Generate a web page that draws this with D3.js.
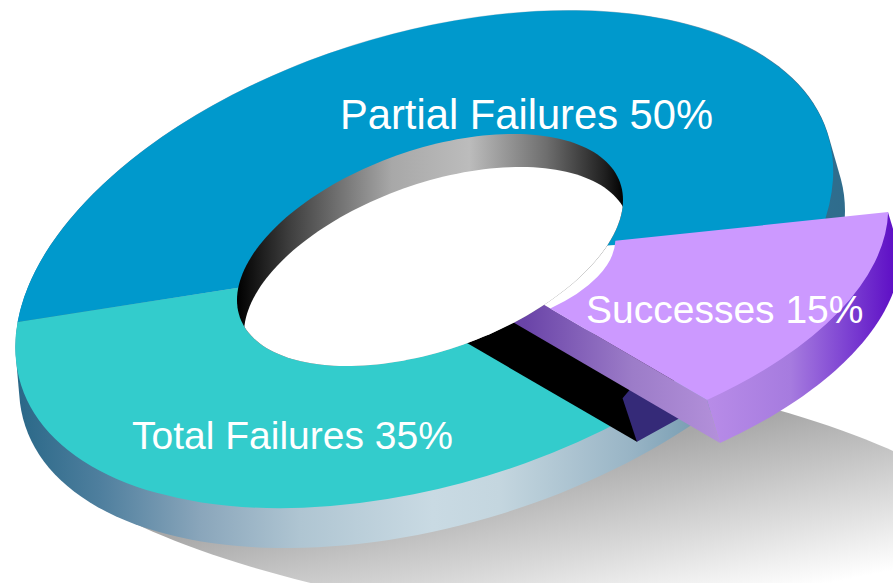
<!DOCTYPE html>
<html>
<head>
<meta charset="utf-8">
<style>
html, body { margin: 0; padding: 0; background: #fff; }
svg { display: block; }
text { font-family: "Liberation Sans", Arial, sans-serif; fill: #fff; }
</style>
<script src="https://cdn.jsdelivr.net/npm/d3@7"></script>
</head>
<body>
<svg id="chart" width="893" height="583"></svg>
<script>
// slices run clockwise from the blue one
const labels = ["Partial Failures", "Successes", "Total Failures"];
const values = [50, 15, 35];
const colors = ["#0099cc", "#cc99ff", "#33cccc"];

const svg = d3.select("#chart");
const defs = svg.append("defs");
const rad = d => d * Math.PI / 180;

// tilted disc: unit circle -> screen
const disc = {a: 409, b: 0, c: -88, d: 233, e: 424.5, f: 259};
const under = {a: 413, b: 0, c: -88, d: 233, e: 432, f: 299};
const hole = {a: 193, b: 0, c: -50, d: 104.7, e: 430, f: 250};
const slice = {a: 424.3, b: 37.9, c: -66.7, d: 203.6, e: 462, f: 257};
const floor = {a: 480, b: 0, c: 55, d: 130, e: 520, f: 490};

const matrix = m => `matrix(${m.a},${m.c},${m.b},${m.d},${m.e},${m.f})`;
const project = (m, r, ang, dx = 0, dy = 0) => [
    m.e + dx + r * (m.a * Math.sin(ang) - m.b * Math.cos(ang)),
    m.f + dy + r * (m.c * Math.sin(ang) - m.d * Math.cos(ang))
];
const closed = d3.line().curve(d3.curveLinearClosed);
const circlePts = (m, dx = 0, dy = 0) => d3.range(0, 360, 2).map(t => project(m, 1, rad(t), dx, dy));

const pie = d3.pie().sort(null).startAngle(rad(-84)).endAngle(rad(276));
const arcs = pie(values);

function gradient(id, x1, y1, x2, y2, stops) {
    const g = defs.append("linearGradient").attr("id", id)
        .attr("gradientUnits", "userSpaceOnUse")
        .attr("x1", x1).attr("y1", y1).attr("x2", x2).attr("y2", y2);
    stops.forEach(s => g.append("stop").attr("offset", s[0]).attr("stop-color", s[1]));
}

gradient("floorFill", 400, 490, 435, 663, [[0, "#a8a8a8"], [1, "#ffffff"]]);
gradient("sideFill", 18, 0, 848, 0, [
    [0, "#2a6888"], [0.1, "#4f7f9e"], [0.22, "#8aa6bb"], [0.34, "#afc5d2"], [0.5, "#c9dae3"],
    [0.58, "#c4d6df"], [0.74, "#98b4c5"], [0.84, "#6f97ad"], [0.95, "#2f6f90"], [1, "#2f6c8c"]
]);
gradient("wellFill", 237, 0, 624, 0, [
    [0, "#000000"], [0.14, "#404040"], [0.4, "#a8a8a8"], [0.6, "#bcbcbc"], [0.8, "#6e6e6e"], [0.95, "#202020"], [1, "#000000"]
]);
gradient("rimFill", 707, 0, 893, 0, [
    [0, "#b88ce8"], [0.45, "#a67bdf"], [0.75, "#7d42d2"], [1, "#5f10c6"]
]);
gradient("cutFill", 525, 0, 720, 0, [
    [0, "#6a44a8"], [0.55, "#9c7cc8"], [1, "#b390da"]
]);

// ground shadow
svg.append("path").attr("d", closed(circlePts(floor))).attr("fill", "url(#floorFill)");

// outer side of the disc
svg.append("path")
    .attr("d", closed(d3.polygonHull(circlePts(disc).concat(circlePts(under)))))
    .attr("fill", "url(#sideFill)");

// top faces of the two slices that stay in place; blue runs on a little under the purple
const face = d3.arc().innerRadius(0).outerRadius(1);
svg.append("path")
    .attr("d", face({startAngle: arcs[0].startAngle, endAngle: arcs[0].endAngle + rad(8)}))
    .attr("transform", matrix(disc)).attr("fill", colors[0]);
svg.append("path").attr("d", face(arcs[2])).attr("transform", matrix(disc)).attr("fill", colors[2]);

// see-through gap where the slice was pulled out
svg.append("path")
    .attr("d", d3.arc().innerRadius(0).outerRadius(0.6)({startAngle: arcs[1].startAngle + rad(8), endAngle: arcs[1].endAngle}))
    .attr("transform", matrix(disc)).attr("fill", "#fff");

// the cut left behind by the pulled-out slice, measured from its closing angle
const cutAngle = arcs[1].endAngle;
const cutBlack = [[1.11, 2.1], [0.365, 18.4], [0.38, -11], [0.95, -11]];
const cutNavy = [[1.11, 2.1], [0.919, -1.8], [0.88, -7], [1.115, -7]];
const cutPts = list => list.map(p => project(disc, p[0], cutAngle + rad(p[1])));
svg.append("path").attr("d", closed(cutPts(cutBlack))).attr("fill", "#000");
svg.append("path").attr("d", closed(cutPts(cutNavy))).attr("fill", "#352a78");

// pulled-out slice keeps its own frame so its 15% wedge lands on the picture
const lift = [13, 43];
const sweep = d3.range(0, 1.001, 0.02).map(t => arcs[1].startAngle + t * (arcs[1].endAngle - arcs[1].startAngle));
const rimPts = sweep.map(t => project(slice, 1, t)).concat(sweep.map(t => project(slice, 1, t, lift[0], lift[1])));
svg.append("path").attr("d", closed(d3.polygonHull(rimPts))).attr("fill", "url(#rimFill)");
const end = arcs[1].endAngle;
svg.append("path")
    .attr("d", closed([
        project(slice, 0.1, end), project(slice, 1, end),
        project(slice, 1, end, lift[0], lift[1]), project(slice, 0.1, end, lift[0], lift[1])
    ]))
    .attr("fill", "url(#cutFill)");

// the hole: inner wall, then white where you see through
svg.append("path").attr("d", closed(circlePts(hole))).attr("fill", "url(#wellFill)");
defs.append("clipPath").attr("id", "holeClip")
    .append("path").attr("d", closed(circlePts(hole)));
svg.append("path")
    .attr("d", closed(circlePts(hole, 7, 33)))
    .attr("clip-path", "url(#holeClip)")
    .attr("fill", "#fff");

// top face of the pulled-out slice
svg.append("path")
    .attr("d", d3.arc().innerRadius(0.36).outerRadius(1)(arcs[1]))
    .attr("transform", matrix(slice))
    .attr("fill", colors[1]);

// labels
const labelX = [340, 586, 132];
const labelY = [129, 323, 449];
const labelSize = [41.7, 39, 39];
svg.selectAll("text.label")
    .data(labels)
    .join("text")
    .attr("class", "label")
    .attr("x", (d, i) => labelX[i])
    .attr("y", (d, i) => labelY[i])
    .attr("font-size", (d, i) => labelSize[i])
    .text((d, i) => `${d} ${values[i]}%`);
</script>
</body>
</html>
